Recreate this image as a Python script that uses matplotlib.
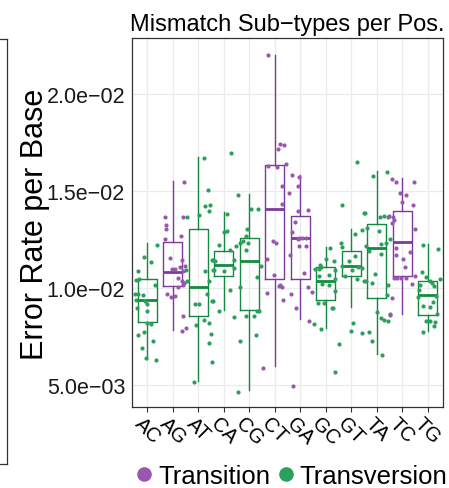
#!/usr/bin/env python3

import matplotlib
matplotlib.use("Agg")
import matplotlib.pyplot as plt
from matplotlib.lines import Line2D

plt.rcParams["font.family"] = ["Liberation Sans", "DejaVu Sans"]

CATEGORIES = ["AC", "AG", "AT", "CA", "CG", "CT", "GA", "GC", "GT", "TA", "TC", "TG"]
KIND = ["tv", "ts", "tv", "tv", "tv", "ts", "ts", "tv", "tv", "tv", "ts", "tv"]

# box stats: whisker low, q1, median, q3, whisker high
WHISLO = [0.00635, 0.00787, 0.00520, 0.00888, 0.00474, 0.00597, 0.00839, 0.00796, 0.00905, 0.00662, 0.00868, 0.00779]
Q1 = [0.00825, 0.01010, 0.00858, 0.01062, 0.00888, 0.01048, 0.01048, 0.00938, 0.01062, 0.00949, 0.01060, 0.00863]
MED = [0.00938, 0.01085, 0.01007, 0.01120, 0.01140, 0.01408, 0.01257, 0.01039, 0.01113, 0.01207, 0.01239, 0.00967]
Q3 = [0.01046, 0.01236, 0.01305, 0.01193, 0.01260, 0.01635, 0.01373, 0.01108, 0.01193, 0.01330, 0.01395, 0.01034]
WHISHI = [0.01231, 0.01553, 0.01673, 0.01390, 0.01485, 0.02200, 0.01584, 0.01211, 0.01305, 0.01601, 0.01567, 0.01228]

# jittered points: values and horizontal jitter
PTS = {
    "AC": [0.01223, 0.01158, 0.01134, 0.01086, 0.01048, 0.01041, 0.01017, 0.00971, 0.00971, 0.00963, 0.00939, 0.00933,
           0.00916, 0.00896, 0.00884, 0.00819, 0.00817, 0.00772, 0.00757, 0.00728, 0.00694, 0.00642, 0.00629],
    "AG": [0.01546, 0.01368, 0.01365, 0.01327, 0.01303, 0.01269, 0.01252, 0.01156, 0.01147, 0.01115, 0.01108, 0.01099,
           0.01099, 0.01086, 0.01052, 0.01038, 0.01024, 0.01016, 0.01004, 0.00968, 0.00957, 0.00952, 0.00856, 0.00796, 0.00781],
    "AT": [0.01668, 0.01504, 0.01428, 0.01423, 0.01394, 0.01377, 0.01368, 0.01144, 0.01093, 0.01090, 0.01038, 0.01034,
           0.00971, 0.00935, 0.00918, 0.00918, 0.00836, 0.00822, 0.00812, 0.00762, 0.00718, 0.00618, 0.00516],
    "CA": [0.01694, 0.01380, 0.01296, 0.01286, 0.01221, 0.01194, 0.01147, 0.01144, 0.01140, 0.01101, 0.01094, 0.01093,
           0.01086, 0.00990, 0.00935, 0.00884, 0.00850],
    "CG": [0.01480, 0.01409, 0.01408, 0.01303, 0.01269, 0.01242, 0.01231, 0.01231, 0.01214, 0.01197, 0.01115, 0.01055,
           0.01005, 0.00884, 0.00880, 0.00855, 0.00855, 0.00759, 0.00728, 0.00468],
    "CT": [0.02197, 0.01740, 0.01735, 0.01714, 0.01637, 0.01628, 0.01625, 0.01526, 0.01435, 0.01243, 0.01231, 0.01151,
           0.01065, 0.01016, 0.01012, 0.01004, 0.00975, 0.00940, 0.00588],
    "GA": [0.01581, 0.01572, 0.01526, 0.01488, 0.01404, 0.01394, 0.01341, 0.01286, 0.01260, 0.01257, 0.01257, 0.01252,
           0.01218, 0.01218, 0.01170, 0.01079, 0.01007, 0.00978, 0.00971, 0.00899, 0.00831, 0.00499],
    "GC": [0.01204, 0.01151, 0.01139, 0.01117, 0.01110, 0.01098, 0.01097, 0.01093, 0.01069, 0.01061, 0.01048, 0.01019,
           0.01014, 0.00983, 0.00921, 0.00921, 0.00899, 0.00899, 0.00814, 0.00790, 0.00714, 0.00567],
    "GT": [0.01646, 0.01426, 0.01384, 0.01298, 0.01276, 0.01231, 0.01211, 0.01165, 0.01141, 0.01115, 0.01106, 0.01105,
           0.01094, 0.01060, 0.01046, 0.01038, 0.00819, 0.00778, 0.00767],
    "TA": [0.01598, 0.01575, 0.01384, 0.01372, 0.01367, 0.01365, 0.01310, 0.01293, 0.01255, 0.01231, 0.01228, 0.01218,
           0.01190, 0.01177, 0.01070, 0.01039, 0.01028, 0.01016, 0.00965, 0.00875, 0.00865, 0.00844, 0.00838, 0.00832,
           0.00772, 0.00728, 0.00656],
    "TC": [0.01560, 0.01546, 0.01546, 0.01488, 0.01478, 0.01442, 0.01428, 0.01372, 0.01367, 0.01350, 0.01334, 0.01305,
           0.01207, 0.01187, 0.01168, 0.01149, 0.01108, 0.01060, 0.01053, 0.01050, 0.01050, 0.01050, 0.01022, 0.00949, 0.00861],
    "TG": [0.01221, 0.01202, 0.01081, 0.01055, 0.01045, 0.01038, 0.01024, 0.01017, 0.01012, 0.00991, 0.00957, 0.00956,
           0.00930, 0.00906, 0.00904, 0.00867, 0.00832, 0.00829, 0.00824, 0.00803, 0.00772],
}
JIT = {
    "AC": [0.37, -0.14, 0.14, -0.38, -0.33, -0.44, 0.30, -0.48, -0.38, -0.16, -0.46, -0.09, 0.0, -0.42, -0.03, 0.0,
           0.14, -0.14, -0.38, 0.24, -0.22, -0.07, 0.33],
    "AG": [0.43, -0.30, 0.42, -0.25, -0.25, 0.33, -0.30, -0.10, 0.38, 0.46, 0.30, -0.04, 0.09, 0.42, 0.22, 0.35, 0.44,
           0.39, 0.22, -0.22, 0.09, -0.07, 0.41, 0.52, 0.35],
    "AT": [0.22, 0.38, 0.46, 0.25, 0.44, 0.01, -0.44, 0.54, -0.48, 0.25, -0.44, 0.44, 0.34, 0.54, -0.14, 0.01, 0.21,
           0.43, -0.08, 0.50, 0.43, 0.54, -0.18],
    "CA": [0.27, 0.12, 0.13, 0.0, -0.20, 0.24, 0.39, -0.44, -0.34, 0.39, -0.44, -0.37, 0.0, 0.26, -0.44, -0.17, 0.39],
    "CG": [-0.46, 0.05, 0.35, -0.07, -0.12, -0.25, -0.35, -0.03, -0.51, -0.13, 0.46, 0.30, -0.37, 0.30, 0.37, -0.13,
           0.20, 0.26, -0.35, -0.46],
    "CT": [-0.27, 0.22, 0.35, 0.12, 0.43, -0.25, 0.07, 0.27, 0.27, -0.05, 0.04, -0.31, -0.01, 0.22, 0.16, 0.27, -0.30,
           0.33, -0.46],
    "GA": [-0.34, -0.05, -0.08, -0.44, 0.29, -0.08, -0.20, -0.31, -0.05, 0.05, 0.24, -0.10, -0.05, 0.21, -0.39, 0.13,
           0.31, 0.47, -0.37, -0.18, 0.34, -0.29],
    "GC": [0.16, 0.01, 0.31, -0.22, -0.20, -0.27, -0.43, 0.35, 0.12, -0.27, 0.38, -0.14, 0.12, 0.38, -0.30, -0.08,
           0.25, 0.29, -0.48, -0.20, 0.51, 0.38],
    "GT": [0.22, -0.35, 0.51, 0.43, 0.13, -0.39, -0.38, 0.14, -0.07, -0.35, 0.27, 0.43, 0.04, -0.25, 0.21, 0.51, 0.08,
           0.0, 0.43],
    "TA": [0.39, -0.16, -0.46, 0.30, 0.46, 0.13, -0.39, 0.09, 0.52, 0.37, 0.16, -0.44, -0.29, 0.16, -0.07, -0.44,
           -0.18, 0.46, 0.42, 0.03, 0.52, 0.16, 0.29, 0.43, -0.31, -0.20, 0.21],
    "TC": [-0.39, -0.25, 0.48, -0.08, 0.16, 0.0, 0.44, -0.50, -0.37, -0.31, -0.39, 0.51, -0.26, 0.31, -0.26, 0.03,
           0.10, 0.51, -0.21, -0.31, -0.05, 0.16, 0.39, -0.42, -0.47],
    "TG": [-0.20, 0.42, -0.22, -0.07, 0.48, 0.09, 0.17, -0.30, 0.25, -0.33, 0.33, -0.38, 0.20, -0.20, 0.09, 0.38,
           -0.07, 0.09, 0.29, 0.25, -0.20],
}

YTICKS = [0.005, 0.010, 0.015, 0.020]
YTICKLABELS = ["5.0e\u221203", "1.0e\u221202", "1.5e\u221202", "2.0e\u221202"]
LEGEND_LABELS = ["Transition", "Transversion"]

PT_COL = {"ts": "#9a57b0", "tv": "#2ba05c"}
BOX_COL = {"ts": "#7d3a98", "tv": "#13893f"}

fig = plt.figure(figsize=(4.49, 4.89), dpi=100)
ax = fig.add_axes([132 / 449, 81 / 489, 311 / 449, 369 / 489])

for i, cat in enumerate(CATEGORIES):
    k = KIND[i]
    st = [dict(whislo=WHISLO[i], q1=Q1[i], med=MED[i], q3=Q3[i], whishi=WHISHI[i])]
    ax.bxp(st, positions=[i], widths=0.75, showfliers=False, showcaps=False,
           boxprops=dict(color=BOX_COL[k], lw=1.0),
           whiskerprops=dict(color=BOX_COL[k], lw=1.0),
           medianprops=dict(color=BOX_COL[k], lw=2.0),
           zorder=2)
    xs = [i + d for d in JIT[cat]]
    ax.scatter(xs, PTS[cat], s=9, color=PT_COL[k], linewidths=0, zorder=3)

ax.set_xlim(-0.6, len(CATEGORIES) - 0.4)
ax.set_ylim(0.003885, 0.022862)
ax.set_xticks(range(len(CATEGORIES)))
ax.set_xticklabels(CATEGORIES, rotation=-45, ha="center", va="top", fontsize=14.5,
                   rotation_mode="default")
ax.set_yticks(YTICKS)
ax.set_yticklabels(YTICKLABELS, fontsize=15.5, color="#1a1a1a")
ax.tick_params(axis="x", length=3.5, width=0.8, color="#333333", pad=1)
ax.tick_params(axis="y", length=0, pad=5)
ax.grid(True, color="#ebebeb", lw=0.9, zorder=0)
ax.set_axisbelow(True)
for s in ax.spines.values():
    s.set_color("#333333")
    s.set_linewidth(0.9)

ax.set_title("Mismatch Sub\u2212types per Pos.", fontsize=17, pad=6)
fig.text(35 / 449, 1 - 224 / 489, "Error Rate per Base", rotation=90, fontsize=22,
         ha="center", va="center")

handles = [Line2D([], [], marker="o", ls="", color=PT_COL[k], markersize=9.5) for k in ["ts", "tv"]]
fig.legend(handles, LEGEND_LABELS, loc="center", bbox_to_anchor=(292 / 449, 1 - 477 / 489), ncol=2,
           frameon=False, fontsize=18.5, handlelength=0.6, handletextpad=0.25, columnspacing=0.3,
           borderpad=0, borderaxespad=0)

# border of the neighbouring panel cut off on the left
for seg in [([7, 7], [40, 465]), ([0, 7], [40, 40]), ([0, 7], [465, 465])]:
    fig.add_artist(Line2D([x / 449 for x in seg[0]], [1 - y / 489 for y in seg[1]],
                          transform=fig.transFigure, color="#333333", lw=0.9))

fig.savefig("out.png", dpi=100)
